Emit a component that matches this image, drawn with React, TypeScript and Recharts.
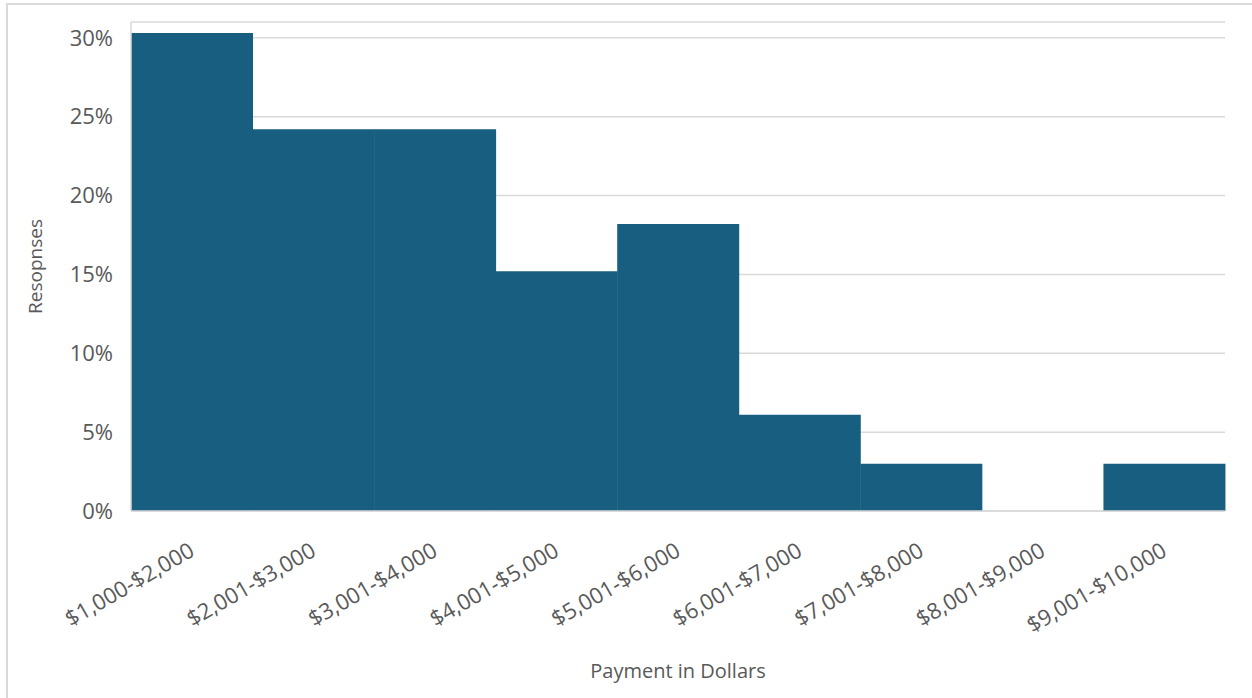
import { Bar, BarChart, CartesianGrid, XAxis, YAxis } from "recharts";

const ranges = [
  "$1,000-$2,000",
  "$2,001-$3,000",
  "$3,001-$4,000",
  "$4,001-$5,000",
  "$5,001-$6,000",
  "$6,001-$7,000",
  "$7,001-$8,000",
  "$8,001-$9,000",
  "$9,001-$10,000",
];
const responseShare = [0.303, 0.242, 0.242, 0.152, 0.182, 0.061, 0.03, 0, 0.03];
const yTicks = [0, 0.05, 0.1, 0.15, 0.2, 0.25, 0.3];

const data = ranges.map((range, i) => ({ range, share: responseShare[i] }));

const FONT = "'Open Sans', 'Noto Sans', sans-serif";
const TEXT = "#595959";
const GRID = "#d9d9d9";
const BAR = "#175e80";

const pct = (v: number) => `${Math.round(v * 100)}%`;

function RangeTick({ x, y, payload }: { x?: number; y?: number; payload?: { value: string } }) {
  return (
    <g transform={`translate(${x ?? 0},${y ?? 0})`}>
      <text
        textAnchor="end"
        transform="translate(4,44) rotate(-30)"
        fill={TEXT}
        fontSize={22}
        fontFamily={FONT}
      >
        {payload?.value}
      </text>
    </g>
  );
}

export default function App() {
  return (
    <div style={{ position: "absolute", left: 0, top: 0, width: 1252, height: 698, background: "#fff" }}>
      <div
        style={{
          position: "absolute",
          left: 6,
          top: 3,
          right: -10,
          bottom: -10,
          borderLeft: `2px solid ${GRID}`,
          borderTop: `2px solid ${GRID}`,
        }}
      />
      <BarChart
        width={1252}
        height={698}
        data={data}
        margin={{ top: 22, right: 27, bottom: 0, left: 0 }}
        barCategoryGap={0}
        style={{ position: "absolute", left: 0, top: 0 }}
      >
        <CartesianGrid vertical={false} stroke={GRID} strokeWidth={1.5} />
        <XAxis
          dataKey="range"
          interval={0}
          height={187}
          tickSize={0}
          tickMargin={0}
          tickLine={false}
          axisLine={{ stroke: GRID, strokeWidth: 1.5 }}
          tick={<RangeTick />}
          label={{
            value: "Payment in Dollars",
            position: "insideBottom",
            offset: 20,
            style: { fill: TEXT, fontSize: 20, fontFamily: FONT },
          }}
        />
        <YAxis
          width={131}
          domain={[0, 0.31]}
          ticks={yTicks}
          tickFormatter={pct}
          tickLine={false}
          tickSize={6}
          tickMargin={12}
          axisLine={{ stroke: GRID, strokeWidth: 1.5 }}
          tick={{ fill: TEXT, fontSize: 22, fontFamily: FONT }}
          label={{
            value: "Resopnses",
            angle: -90,
            position: "insideLeft",
            offset: 35,
            style: { fill: TEXT, fontSize: 19, fontFamily: FONT, textAnchor: "middle" },
          }}
        />
        <Bar dataKey="share" fill={BAR} isAnimationActive={false} />
      </BarChart>
    </div>
  );
}
